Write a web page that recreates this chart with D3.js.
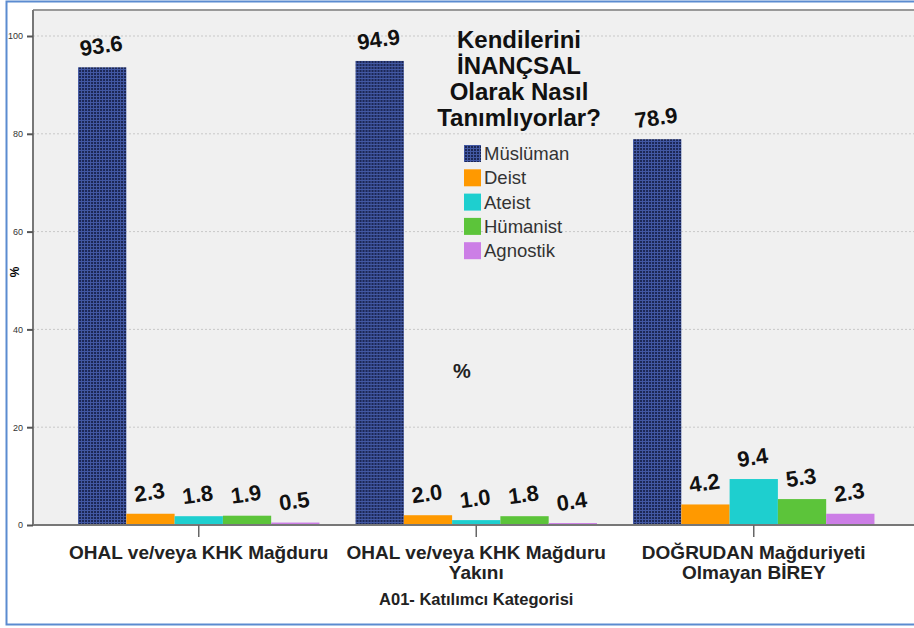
<!DOCTYPE html>
<html>
<head>
<meta charset="utf-8">
<script src="https://cdn.jsdelivr.net/npm/d3@7"></script>
<style>
  body { margin: 0; background: #fff; }
  text { font-family: "Liberation Sans", Arial, sans-serif; }
</style>
</head>
<body>
<svg id="chart"></svg>
<script>
// data
const categories = [
  ['OHAL ve/veya KHK Mağduru'],
  ['OHAL ve/veya KHK Mağduru', 'Yakını'],
  ['DOĞRUDAN Mağduriyeti', 'Olmayan BİREY']
];
const series = ['Müslüman', 'Deist', 'Ateist', 'Hümanist', 'Agnostik'];
const musluman = [93.6, 94.9, 78.9];
const deist = [2.3, 2.0, 4.2];
const ateist = [1.8, 1.0, 9.4];
const humanist = [1.9, 1.8, 5.3];
const agnostik = [0.5, 0.4, 2.3];
const yTicks = [0, 20, 40, 60, 80, 100];
const titleLines = ['Kendilerini', 'İNANÇSAL', 'Olarak Nasıl', 'Tanımlıyorlar?'];

const colors = ['url(#grid)', '#ff9900', '#1ecfcf', '#5cc43a', '#cc7ee6'];
const values = [musluman, deist, ateist, humanist, agnostik];

const W = 914, H = 628;
const plot = {left: 33, top: 10, right: 914, bottom: 525};

const svg = d3.select('#chart').attr('width', W).attr('height', H);

// pattern for Müslüman bars
const defs = svg.append('defs');
const pat = defs.append('pattern')
  .attr('id', 'grid')
  .attr('width', 3).attr('height', 3)
  .attr('patternUnits', 'userSpaceOnUse');
pat.append('rect').attr('width', 3).attr('height', 3).attr('fill', '#1c2755');
pat.append('path').attr('d', 'M0,0.5H3M0.5,0V3')
  .attr('stroke', '#4258a3').attr('stroke-width', 1);

// outer frame
svg.append('rect')
  .attr('x', 6.5).attr('y', 1.5).attr('width', W).attr('height', 623)
  .attr('fill', '#fff').attr('stroke', '#5b8bd0').attr('stroke-width', 2);

// plot background
svg.append('rect')
  .attr('x', plot.left).attr('y', plot.top)
  .attr('width', plot.right - plot.left).attr('height', plot.bottom - plot.top)
  .attr('fill', '#f0f0f0');
svg.append('line')
  .attr('x1', plot.left).attr('x2', plot.right)
  .attr('y1', plot.top).attr('y2', plot.top)
  .attr('stroke', '#999').attr('stroke-width', 2);

const y = d3.scaleLinear().domain([0, 100]).range([plot.bottom, 36]);
const x0 = d3.scaleBand().domain(d3.range(categories.length))
  .range([60, 892.5]).paddingInner(0.13).paddingOuter(0.065);
const x1 = d3.scaleBand().domain(series).range([0, x0.bandwidth()]);

// gridlines
svg.append('g').selectAll('line')
  .data(yTicks.filter(d => d > 0))
  .join('line')
  .attr('x1', plot.left).attr('x2', plot.right)
  .attr('y1', d => y(d)).attr('y2', d => y(d))
  .attr('stroke', '#c8c8c8').attr('stroke-dasharray', '2,2');

// y axis
const yAxis = svg.append('g')
  .attr('transform', `translate(${plot.left},0)`)
  .call(d3.axisLeft(y).tickValues(yTicks).tickSize(6).tickPadding(4));
yAxis.select('.domain').attr('stroke', '#777').attr('stroke-width', 2)
  .attr('d', `M0,${plot.top}V${plot.bottom}`);
yAxis.selectAll('.tick line').attr('stroke', '#555').attr('stroke-width', 2);
yAxis.selectAll('.tick text').attr('fill', '#333').style('font-size', '9px');

svg.append('text')
  .attr('transform', `translate(19,272) rotate(-90)`)
  .attr('text-anchor', 'middle')
  .style('font-size', '12px').style('font-weight', 'bold')
  .text('%');

// bars
const groups = svg.append('g').selectAll('g')
  .data(categories.map((c, i) => i))
  .join('g')
  .attr('transform', i => `translate(${x0(i)},0)`);

groups.selectAll('rect')
  .data(i => series.map((s, k) => ({s, k, v: values[k][i]})))
  .join('rect')
  .attr('x', d => x1(d.s))
  .attr('y', d => y(d.v))
  .attr('width', x1.bandwidth())
  .attr('height', d => y(0) - y(d.v))
  .attr('fill', d => colors[d.k]);

groups.selectAll('text.val')
  .data(i => series.map((s, k) => ({s, k, v: values[k][i]})))
  .join('text')
  .attr('class', 'val')
  .attr('transform', d => `translate(${x1(d.s) + x1.bandwidth() / 2},${y(d.v) - 14}) rotate(-8)`)
  .attr('text-anchor', 'middle')
  .style('font-size', '22px').style('font-weight', 'bold')
  .attr('fill', '#111')
  .text(d => d.v.toFixed(1));

// x axis
svg.append('line')
  .attr('x1', plot.left).attr('x2', plot.right)
  .attr('y1', plot.bottom).attr('y2', plot.bottom)
  .attr('stroke', '#777').attr('stroke-width', 2);
const xTicks = svg.append('g').selectAll('g')
  .data(categories.map((c, i) => i))
  .join('g')
  .attr('transform', i => `translate(${x0(i) + x0.bandwidth() / 2},${plot.bottom})`);
xTicks.append('line').attr('y2', 12).attr('stroke', '#666').attr('stroke-width', 1.5);
xTicks.append('text')
  .attr('text-anchor', 'middle')
  .style('font-size', '19px').style('font-weight', 'bold')
  .attr('fill', '#222')
  .selectAll('tspan')
  .data(i => categories[i])
  .join('tspan')
  .attr('x', 0)
  .attr('y', (d, j) => 34 + j * 19.5)
  .text(d => d);

svg.append('text')
  .attr('x', x0(1) + x0.bandwidth() / 2).attr('y', 605)
  .attr('text-anchor', 'middle')
  .style('font-size', '16.5px').style('font-weight', 'bold')
  .attr('fill', '#222')
  .text('A01- Katılımcı Kategorisi');

// title
svg.append('text')
  .attr('text-anchor', 'middle')
  .style('font-size', '24px').style('font-weight', 'bold')
  .attr('fill', '#111')
  .selectAll('tspan')
  .data(titleLines)
  .join('tspan')
  .attr('x', 519)
  .attr('y', (d, j) => 48 + j * 26)
  .text(d => d);

// legend
const legend = svg.append('g').attr('transform', 'translate(464,145)');
const li = legend.selectAll('g').data(series).join('g')
  .attr('transform', (d, i) => `translate(0,${i * 24.3})`);
li.append('rect').attr('width', 17).attr('height', 17)
  .attr('fill', (d, i) => colors[i]);
li.append('text').attr('x', 20).attr('y', 15)
  .style('font-size', '18.5px').attr('fill', '#333')
  .text(d => d);

svg.append('text')
  .attr('x', 462).attr('y', 378)
  .attr('text-anchor', 'middle')
  .style('font-size', '20px').style('font-weight', 'bold')
  .attr('fill', '#222')
  .text('%');
</script>
</body>
</html>
